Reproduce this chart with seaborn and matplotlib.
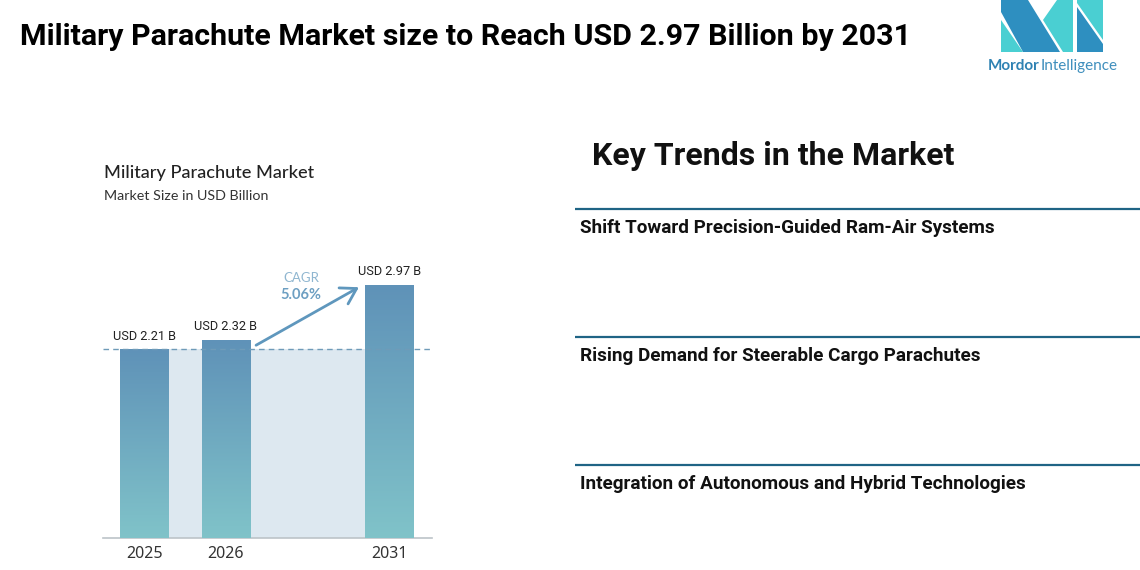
import numpy as np
import pandas as pd
import matplotlib
matplotlib.use('Agg')
import matplotlib.pyplot as plt
from matplotlib.colors import LinearSegmentedColormap
from matplotlib.patches import Polygon
import seaborn as sns

# Dane wykresu
years = ['2025', '2026', '2031']
year_slots = [0, 1, 3]
market_size = [2.21, 2.32, 2.97]
value_labels = ['USD 2.21 B', 'USD 2.32 B', 'USD 2.97 B']
cagr_label = 'CAGR'
cagr_value = '5.06%'

main_title = 'Military Parachute Market size to Reach USD 2.97 Billion by 2031'
chart_title = 'Military Parachute Market'
chart_subtitle = 'Market Size in USD Billion'
trends_title = 'Key Trends in the Market'
trends = ['Shift Toward Precision-Guided Ram-Air Systems',
          'Rising Demand for Steerable Cargo Parachutes',
          'Integration of Autonomous and Hybrid Technologies']

W, H = 1140, 570
TEXT_FONT = 'Roboto'
CHART_FONT = 'Lato'

sns.set_theme(style='white')
fig = plt.figure(figsize=(W / 100, H / 100), dpi=100, facecolor='white')


def px_text(x, y, s, **kw):
    fig.text(x / W, 1 - y / H, s, va='center', **kw)


# Nakładka w pikselach: logo i linie po prawej
overlay = fig.add_axes([0, 0, 1, 1])
overlay.set_xlim(0, W)
overlay.set_ylim(H, 0)
overlay.axis('off')

BLUE = '#2e8fc0'
TEAL = '#4acfd2'
logo = [
    ([(1001, 0), (1028, 0), (1060, 52), (1023, 52), (1001, 12)], BLUE),
    ([(1001, 20), (1023, 52), (1001, 52)], TEAL),
    ([(1057, 0), (1073, 0), (1073, 52), (1063, 52), (1043, 20)], TEAL),
    ([(1077, 0), (1103, 0), (1103, 40), (1077, 3)], TEAL),
    ([(1077, 7), (1103, 44), (1103, 52), (1077, 52)], BLUE),
]
for pts, col in logo:
    overlay.add_patch(Polygon(pts, closed=True, fc=col, ec='none'))
px_text(988, 66, 'Mordor', fontsize=11, fontweight='bold', color='#2f82b3', family=CHART_FONT)
px_text(1041, 66, 'Intelligence', fontsize=11, color='#3f8fbd', family=CHART_FONT)

for y in [209.5, 337.5, 465.5]:
    overlay.plot([575, W], [y - 0.5, y - 0.5], color='#1f6485', lw=1.6, solid_capstyle='butt')

# Teksty
px_text(20, 37, main_title, fontsize=21.9, fontweight='bold', color='black', family=TEXT_FONT)
px_text(592, 156, trends_title, fontsize=23, fontweight='bold', color='#111111', family=TEXT_FONT)
for y, t in zip([228, 356, 484], trends):
    px_text(580, y, t, fontsize=13.6, fontweight='bold', color='#111111', family=TEXT_FONT)
px_text(104, 173, chart_title, fontsize=13.1, color='#222222', family=CHART_FONT, fontweight='medium')
px_text(104, 196, chart_subtitle, fontsize=10.3, color='#333333', family=CHART_FONT)

# Wykres słupkowy
ax = fig.add_axes([103 / W, 1 - 538 / H, (432 - 103) / W, (538 - 250) / H])
ax.patch.set_alpha(0)
df = pd.DataFrame({'slot': year_slots, 'size': market_size})
sns.barplot(data=df, x='slot', y='size', native_scale=True, width=0.59, color='#5f92b8', ax=ax)

xlim = (-0.505, 3.525)
ylim = (0, 288 / 85.3)

# Gradient w słupkach
cmap = LinearSegmentedColormap.from_list('bar_grad', ['#80c3c9', '#5f92b8'])
grad = np.linspace(0, 1, 256).reshape(-1, 1)
for patch in ax.patches:
    x0, w, h = patch.get_x(), patch.get_width(), patch.get_height()
    im = ax.imshow(grad, origin='lower', extent=(x0, x0 + w, 0, h), aspect='auto', cmap=cmap, zorder=3)
    im.set_clip_path(patch)

# Tło i linia przerywana na poziomie 2025
ax.fill_between([year_slots[0], year_slots[-1]], 0, market_size[0], color='#dde8f0', lw=0, zorder=1)
ax.axhline(market_size[0], color='#6f9bb8', lw=1, ls=(0, (4, 3)), zorder=4)

for s, v, lab in zip(year_slots, market_size, value_labels):
    ax.text(s, v + 0.08, lab, ha='center', va='bottom', fontsize=9.2, color='#222222', family=TEXT_FONT)

ax.annotate('', xy=(2.63, 2.94), xytext=(1.37, 2.26),
            arrowprops=dict(arrowstyle='->,head_length=0.9,head_width=0.55', color='#5f97bd', lw=2,
                            shrinkA=0, shrinkB=0))
ax.text(1.92, 3.05, cagr_label, ha='center', va='center', fontsize=9.5, color='#8fb6d0', family=CHART_FONT)
ax.text(1.92, 2.85, cagr_value, ha='center', va='center', fontsize=10.5, fontweight='bold', color='#6d9fc2', family=CHART_FONT)

ax.set_xlim(xlim)
ax.set_ylim(ylim)
ax.set_xticks(year_slots, years)
ax.set_yticks([])
ax.set_xlabel('')
ax.set_ylabel('')
ax.tick_params(axis='x', length=0, pad=6, labelsize=11.5, labelcolor='#333333')
for lab in ax.get_xticklabels():
    lab.set_family('Noto Sans')
sns.despine(ax=ax, left=True)
ax.spines['bottom'].set_color('#bcc3c8')
ax.spines['bottom'].set_linewidth(1.2)

fig.savefig('out.png', dpi=100)
